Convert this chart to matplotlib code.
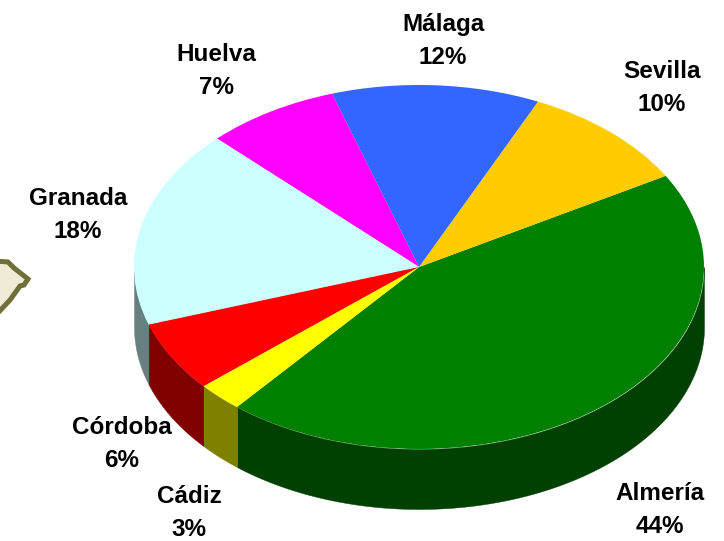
import numpy as np
import matplotlib
matplotlib.use("Agg")
import matplotlib.pyplot as plt

names = ["Almería", "Sevilla", "Málaga", "Huelva", "Granada", "Córdoba", "Cádiz"]
shares = [44.4, 9.8, 11.8, 7.6, 17.6, 6.25, 2.6]
pct_labels = ["44%", "10%", "12%", "7%", "18%", "6%", "3%"]
top_colors = ["#008000", "#FFCC00", "#3366FF", "#FF00FF", "#CCFFFF", "#FF0000", "#FFFF00"]
side_colors = ["#004000", "#806600", "#1A3380", "#800080", "#668080", "#800000", "#808000"]

# where the labels sit, in image pixels
label_xy = [(660, 510), (662, 88), (443, 41), (216, 71), (78, 215), (122, 444), (189, 513)]

# scrap of the map at the left edge, image pixels
map_x = [-5, 8, 14, 28, 24, 20, 10, -5]
map_y = [261, 262, 268, 279, 285, 286, 300, 316]

W, H = 724, 541
cx, cy = 419, 267
rx, ry = 285, 182
depth = 60 / ry
start = 230.3

plt.rcParams['font.family'] = ['Liberation Sans', 'DejaVu Sans']
fig = plt.figure(figsize=(W / 100, H / 100), dpi=100)
ax = fig.add_axes([0, 0, 1, 1])

# side wall first, only the part of each slice facing the front
edges = start + np.cumsum([0] + shares) / sum(shares) * 360
for i in range(len(shares)):
    for shift in (0, 360):
        a = max(edges[i] - shift, 180)
        b = min(edges[i + 1] - shift, 360)
        if a < b:
            t = np.radians(np.linspace(a, b, 150))
            ax.fill_between(np.cos(t), np.sin(t), np.sin(t) - depth,
                            color=side_colors[i], lw=0.3, zorder=1)

ax.pie(shares, colors=top_colors, startangle=start, counterclock=True,
       radius=1, wedgeprops={'linewidth': 0}, normalize=True)
for p in ax.patches:
    p.set_zorder(2)

ax.set_aspect('auto')
ax.set_xlim(-cx / rx, (W - cx) / rx)
ax.set_ylim((cy - H) / ry, cy / ry)
ax.axis('off')

# map scrap in pixel coordinates
ax2 = fig.add_axes([0, 0, 1, 1], zorder=-1)
ax2.fill(map_x, map_y, facecolor="#EFEBD6", edgecolor="#6F6F3A", lw=3.6)
ax2.set_xlim(0, W)
ax2.set_ylim(H, 0)
ax2.axis('off')

for name, pct, (x, y) in zip(names, pct_labels, label_xy):
    fig.text(x / W, 1 - y / H, name + "\n" + pct, ha='center', va='center',
             fontsize=17.5, fontweight='bold', color='black', linespacing=1.55)

fig.savefig("out.png", dpi=100)
